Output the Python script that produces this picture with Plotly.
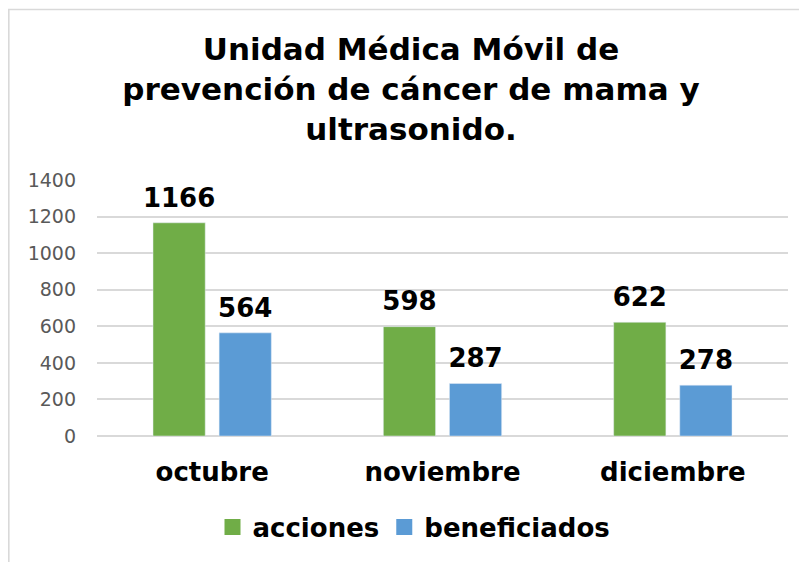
import plotly.graph_objects as go

categories = ["octubre", "noviembre", "diciembre"]
acciones = [1166, 598, 622]
beneficiados = [564, 287, 278]
y_ticks = [0, 200, 400, 600, 800, 1000, 1200, 1400]

title_text = "Unidad Médica Móvil de<br>prevención de cáncer de mama y<br>ultrasonido."

GREEN = "#70ad47"
BLUE = "#5b9bd5"
label_font = dict(family="DejaVu Sans", size=26, color="black", weight="bold")

# page has an 8px body margin, so the figure is made 8px smaller and offset
W, H = 807 - 8, 562 - 8
L, R, T, B = 89, 19, 172, 126
PW, PH = W - L - R, H - T - B

fig = go.Figure()
for name, vals, col in [("acciones", acciones, GREEN), ("beneficiados", beneficiados, BLUE)]:
    fig.add_trace(go.Bar(
        name=name, x=categories, y=vals, marker=dict(color=col),
        showlegend=False, offsetgroup=name,
    ))
# value labels as grouped scatter text above bars
for name, vals in [("acciones", acciones), ("beneficiados", beneficiados)]:
    fig.add_trace(go.Scatter(
        name=name, x=categories, y=vals, mode="markers+text",
        text=[str(v) for v in vals], textposition="top center",
        textfont=label_font, marker=dict(size=14, opacity=0),
        showlegend=False, cliponaxis=False, hoverinfo="skip", offsetgroup=name,
    ))
# legend proxies
for name, col in [("acciones", GREEN), ("beneficiados", BLUE)]:
    fig.add_trace(go.Scatter(
        name=name, x=[None], y=[None], mode="markers",
        marker=dict(symbol="square", size=16, color=col), showlegend=True,
    ))

fig.update_layout(
    width=W, height=H,
    margin=dict(l=L, r=R, t=T, b=B),
    paper_bgcolor="white", plot_bgcolor="white",
    barmode="group", bargap=0.426, bargroupgap=0.21,
    scattermode="group", scattergap=0.426,
    title=dict(
        text=title_text,
        font=dict(family="DejaVu Sans", size=31, color="black", weight="bold"),
        x=(411 - 8) / W, xref="container", xanchor="center",
        y=0.907, yref="container", yanchor="top",
    ),
    legend=dict(
        orientation="h", x=(414 - 8 - L) / PW, xanchor="center",
        y=-(527 - 436) / PH, yanchor="middle",
        font=dict(family="DejaVu Sans", size=26, color="black", weight="bold"),
        itemwidth=30, traceorder="normal",
    ),
)

fig.update_yaxes(
    range=[0, 1400], tickvals=y_ticks,
    showgrid=True, gridcolor="#d9d9d9", gridwidth=1.5,
    zeroline=True, zerolinecolor="#d9d9d9", zerolinewidth=1.5,
    tickfont=dict(family="DejaVu Sans", size=19, color="#595959"),
    ticklabelstandoff=20,
)
fig.update_xaxes(
    tickfont=dict(family="DejaVu Sans", size=26, color="black", weight="bold"),
    ticklabelstandoff=18, showline=False,
)

# outer chart border (light gray, visible on left and top)
fig.add_shape(
    type="rect", xref="paper", yref="paper",
    x0=(0.8 - L) / PW, x1=1.5, y0=-1.5, y1=(PH + T - 1.5) / PH,
    line=dict(color="#d9d9d9", width=1.6), fillcolor="rgba(0,0,0,0)", layer="below",
)

fig.write_html("out.html")
